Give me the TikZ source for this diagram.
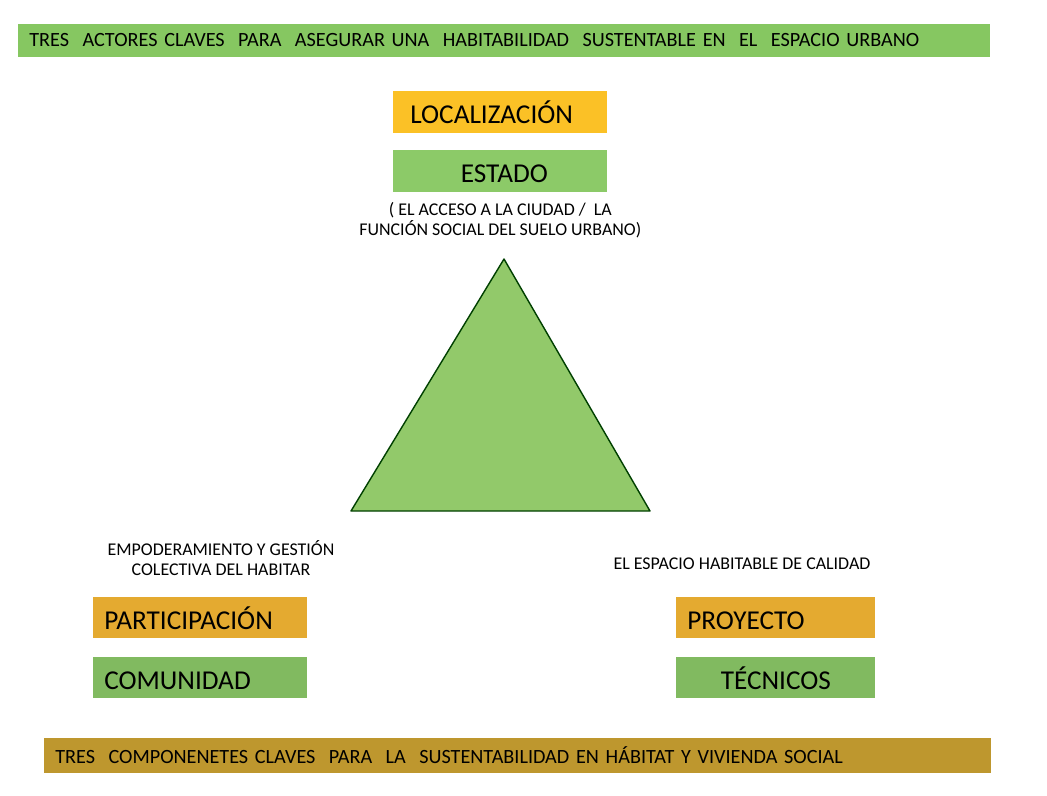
\documentclass[tikz,border=0pt]{standalone}
\usepackage{fontspec}
\setmainfont{Carlito}
\usetikzlibrary{positioning}
\definecolor{bargreen}{RGB}{134,199,97}
\definecolor{bargold}{RGB}{190,151,46}
\definecolor{boxorange}{RGB}{251,193,38}
\definecolor{boxgold}{RGB}{228,170,48}
\definecolor{boxgreen}{RGB}{140,202,104}
\definecolor{trigreen}{RGB}{146,201,106}
\tikzset{
  banner/.style={rectangle, anchor=west, minimum height=0.66cm, inner xsep=0.22cm, align=left, font=\fontsize{11.5}{13}\selectfont},
  tag/.style={rectangle, anchor=west, minimum height=0.83cm, align=left, text height=15pt, text depth=1.5pt, font=\fontsize{15.5}{18}\selectfont},
  note/.style={align=center, font=\fontsize{10.2}{11.6}\selectfont},
}
\begin{document}
\begin{tikzpicture}[x=0.02cm, y=-0.02cm]
    \useasboundingbox (0,0) rectangle (1047,795);

    % Title banner
    \node[banner, fill=bargreen, text width=19.0cm] (title) at (18,40.5)
        {TRES~ ACTORES CLAVES~ PARA~ ASEGURAR UNA~ HABITABILIDAD~ SUSTENTABLE EN~ EL~ ESPACIO URBANO};

    % Top actor
    \node[tag, fill=boxorange, text width=3.6cm, inner xsep=0.34cm] (localizacion) at (393,112) {LOCALIZACIÓN};
    \node[tag, fill=boxgreen, text width=4.08cm, inner xsep=0.1cm, align=center] (estado) at (393,171) {\hspace*{0.16cm}ESTADO};
    \node[note, below=0.08cm of estado] (acceso) {( EL ACCESO A LA CIUDAD /~ LA\\FUNCIÓN SOCIAL DEL SUELO URBANO)};

    % Triangle
    \coordinate (apex) at (504,259);
    \coordinate (left) at (351,511);
    \coordinate (right) at (650,511);
    \draw[fill=trigreen, draw=black!75!green, line width=0.8pt, line join=round] (apex) -- (left) -- (right) -- cycle;

    % Left actor
    \node[note] (empoderamiento) at (221,558) {EMPODERAMIENTO Y GESTIÓN\\COLECTIVA DEL HABITAR};
    \node[tag, fill=boxgold, text width=3.84cm, inner xsep=0.22cm] (participacion) at (93,617.5) {PARTICIPACIÓN};
    \node[tag, fill=boxgreen!92!black, text width=3.84cm, inner xsep=0.22cm] (comunidad) at (93,677.5) {COMUNIDAD};

    % Right actor
    \node[note] (calidad) at (742,564) {EL ESPACIO HABITABLE DE CALIDAD};
    \node[tag, fill=boxgold, text width=3.54cm, inner xsep=0.22cm] (proyecto) at (676,617.5) {PROYECTO};
    \node[tag, fill=boxgreen!92!black, text width=3.78cm, inner xsep=0.1cm, align=center] (tecnicos) at (676,677.5) {TÉCNICOS};

    % Bottom banner
    \node[banner, fill=bargold, minimum height=0.7cm, text width=18.5cm] (componentes) at (44,755.5)
        {TRES~ COMPONENETES CLAVES~ PARA~ LA~ SUSTENTABILIDAD EN HÁBITAT Y VIVIENDA SOCIAL};
\end{tikzpicture}
\end{document}
